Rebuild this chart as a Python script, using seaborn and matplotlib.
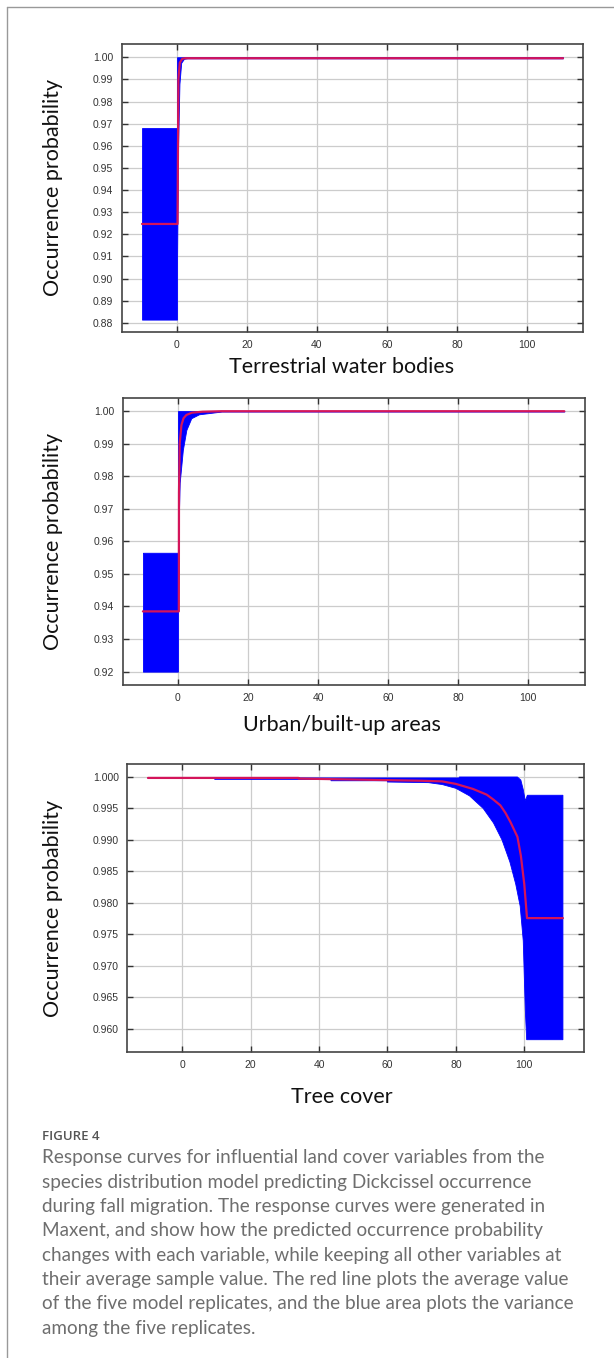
import matplotlib
matplotlib.use("Agg")
import matplotlib.pyplot as plt
import seaborn as sns
import pandas as pd

# Terrestrial water bodies
water_band_x = [-10, 0, 0, 0.3, 0.7, 1.2, 2, 3, 110.3]
water_low = [0.8815, 0.8815, 0.905, 0.959, 0.988, 0.9975, 0.9993, 0.9995, 0.9995]
water_high = [0.968, 0.968, 1.0, 1.0, 1.0, 1.0, 1.0, 1.0, 1.0]
water_mean_x = [-10, 0.15, 0.4, 0.8, 1.5, 2.5, 110.3]
water_mean = [0.9247, 0.9247, 0.990, 0.9975, 0.9993, 0.99955, 0.99955]

# Urban/built-up areas
urban_band_x = [-10, 0, 0, 0.2, 0.5, 1.4, 2.4, 3.8, 6, 12.5, 110.3]
urban_low = [0.920, 0.920, 0.9365, 0.965, 0.978, 0.9881, 0.9942, 0.9978, 0.9990, 0.99985, 0.99985]
urban_high = [0.9565, 0.9565, 1.0, 1.0, 1.0, 1.0, 1.0, 1.0, 1.0, 1.0, 1.0]
urban_mean_x = [-10, 0.25, 0.3, 0.5, 1.0, 1.6, 2.4, 4, 7, 12.5, 110.3]
urban_mean = [0.9385, 0.9385, 0.975, 0.990, 0.9957, 0.9978, 0.9988, 0.9995, 0.9998, 0.99995, 0.99995]

# Tree cover
tree_low_x = [-10, 9.5, 9.5, 43.5, 43.5, 60, 60, 72, 76, 80, 84, 88, 91, 93.5,
              95.8, 97.5, 98.8, 99.7, 100.3, 100.7, 111.3]
tree_low = [0.9998, 0.9998, 0.99962, 0.99962, 0.9994, 0.9994, 0.9992, 0.9991, 0.9988,
            0.9982, 0.9970, 0.9950, 0.9927, 0.9900, 0.9865, 0.9830, 0.9795, 0.9740,
            0.9630, 0.9583, 0.9583]
tree_high_x = [-10, 81, 81, 98, 99, 99.7, 100.3, 100.9, 111.3]
tree_high = [0.99985, 0.99985, 1.0, 1.0, 0.9995, 0.9980, 0.9962, 0.9971, 0.9971]
tree_mean_x = [-10, 34, 34, 60, 70, 76, 80, 85, 89, 91, 93, 94.5, 96, 98, 99, 100,
               100.8, 111.3]
tree_mean = [0.99985, 0.99985, 0.99975, 0.9995, 0.9994, 0.9993, 0.9989, 0.9981, 0.9972,
             0.9964, 0.9955, 0.9943, 0.9928, 0.9905, 0.9875, 0.9830, 0.9776, 0.9776]

water_yticks = [0.88, 0.89, 0.90, 0.91, 0.92, 0.93, 0.94, 0.95, 0.96, 0.97, 0.98, 0.99, 1.00]
urban_yticks = [0.92, 0.93, 0.94, 0.95, 0.96, 0.97, 0.98, 0.99, 1.00]
tree_yticks = [0.960, 0.965, 0.970, 0.975, 0.980, 0.985, 0.990, 0.995, 1.000]
xticks = [0, 20, 40, 60, 80, 100]

caption_lines = [
    "Response curves for influential land cover variables from the",
    "species distribution model predicting Dickcissel occurrence",
    "during fall migration. The response curves were generated in",
    "Maxent, and show how the predicted occurrence probability",
    "changes with each variable, while keeping all other variables at",
    "their average sample value. The red line plots the average value",
    "of the five model replicates, and the blue area plots the variance",
    "among the five replicates.",
]

sns.set_style("whitegrid")
W, H = 614, 1358
fig = plt.figure(figsize=(W / 100, H / 100), dpi=100)

def px_axes(x0, y0, x1, y1):
    return fig.add_axes([x0 / W, 1 - y1 / H, (x1 - x0) / W, (y1 - y0) / H])

panels = [
    dict(box=(121.7, 43.5, 583.3, 332), bx=water_band_x, lo=water_low, hi=water_high,
         hx=None, mx=water_mean_x, my=water_mean, yt=water_yticks, fmt="{:.2f}",
         ylim=(0.8759, 1.0062), xlim=(-15.8, 116.1), label="Terrestrial water bodies", ly=367),
    dict(box=(122.6, 397.7, 584.6, 685), bx=urban_band_x, lo=urban_low, hi=urban_high,
         hx=None, mx=urban_mean_x, my=urban_mean, yt=urban_yticks, fmt="{:.2f}",
         ylim=(0.9159, 1.0041), xlim=(-15.8, 116.1), label="Urban/built-up areas", ly=725),
    dict(box=(127.3, 764, 583.8, 1052), bx=tree_low_x, lo=tree_low, hi=tree_high,
         hx=tree_high_x, mx=tree_mean_x, my=tree_mean, yt=tree_yticks, fmt="{:.3f}",
         ylim=(0.95635, 1.00206), xlim=(-16.05, 117.4), label="Tree cover", ly=1097),
]

label_font = ["Lato", "DejaVu Sans"]
tick_font = ["Liberation Sans Narrow", "Liberation Sans", "DejaVu Sans"]

for p in panels:
    ax = px_axes(*p["box"])
    ax.set_facecolor("white")
    if p["hx"] is None:
        ax.fill_between(p["bx"], p["lo"], p["hi"], color="#0000ff", lw=0.6, zorder=2)
    else:
        # upper edge sampled at other x than lower edge: close as one polygon
        xs = list(p["bx"]) + list(reversed(p["hx"]))
        ys = list(p["lo"]) + list(reversed(p["hi"]))
        ax.fill(xs, ys, color="#0000ff", lw=0.6, zorder=2)
    df = pd.DataFrame({"x": p["mx"], "y": p["my"]})
    sns.lineplot(data=df, x="x", y="y", ax=ax, color="#d4145a", lw=1.6,
                 sort=False, estimator=None, zorder=3)
    ax.set_xlim(*p["xlim"])
    ax.set_ylim(*p["ylim"])
    ax.set_xticks(xticks)
    ax.set_yticks(p["yt"])
    ax.set_xticklabels([str(t) for t in xticks], family=tick_font, fontsize=7.5, color="#333333")
    ax.set_yticklabels([p["fmt"].format(t) for t in p["yt"]], family=tick_font,
                       fontsize=7.5, color="#333333")
    ax.grid(True, color="#cccccc", lw=0.9)
    ax.tick_params(direction="in", length=4, width=1, color="#333333",
                   top=True, right=True, left=True, bottom=True, pad=6)
    for s in ax.spines.values():
        s.set_color("#444444")
        s.set_linewidth(1.2)
    ax.set_xlabel("")
    ax.set_ylabel("")
    yc = (p["box"][1] + p["box"][3]) / 2
    fig.text(53 / W, 1 - yc / H, "Occurrence probability", rotation=90, ha="center",
             va="center", fontsize=15.5, family=label_font, color="#111111")
    fig.text(342 / W, 1 - p["ly"] / H, p["label"], ha="center", va="center",
             fontsize=15.5, family=label_font, color="#111111")

# page frame lines
fig.add_artist(plt.Line2D([7 / W, 7 / W], [0, 1 - 7 / H], color="#999999", lw=1))
fig.add_artist(plt.Line2D([7 / W, 1], [1 - 7 / H, 1 - 7 / H], color="#999999", lw=1))

fig.text(42 / W, 1 - 1136 / H, "FIGURE 4", fontsize=9.5, family=["Open Sans", "DejaVu Sans"],
         fontweight="semibold", color="#555555", va="center")
for i, line in enumerate(caption_lines):
    fig.text(42 / W, 1 - (1158 + i * 24.3) / H, line, fontsize=13.6,
             family=["Lato", "DejaVu Sans"], fontweight="normal", color="#6e6e6e", va="center")

fig.savefig("out.png", dpi=100)
